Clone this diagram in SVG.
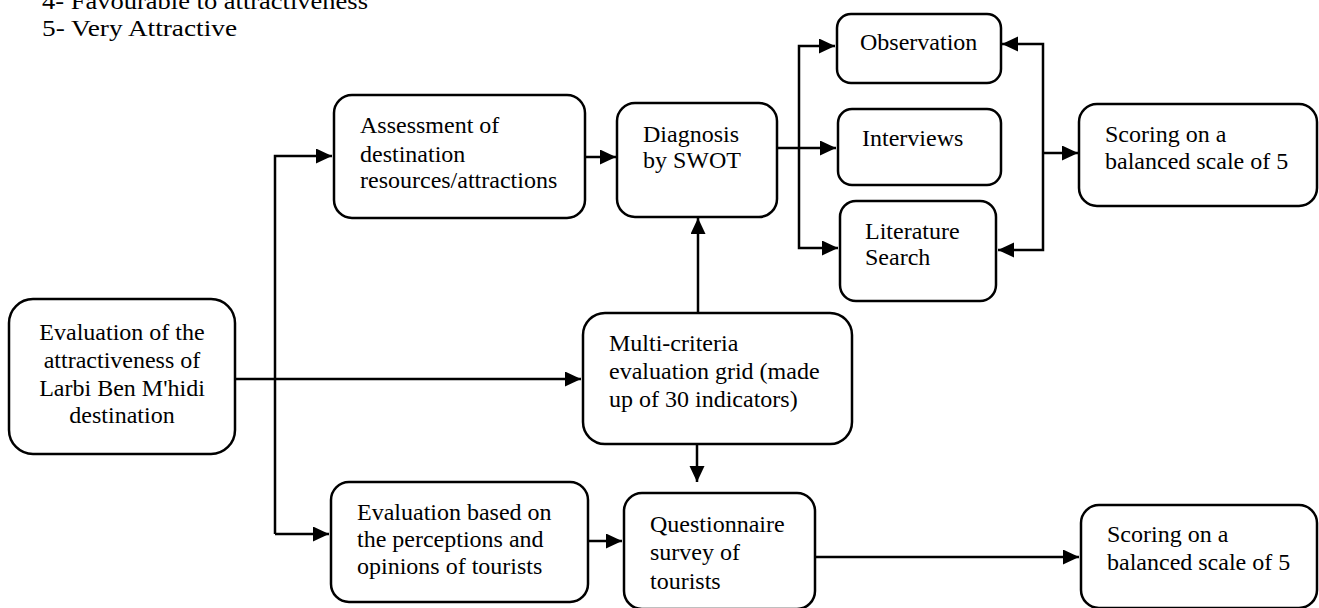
<svg xmlns="http://www.w3.org/2000/svg" width="1319" height="608" viewBox="0 0 1319 608">
<defs>
<style>
text{font-family:"Liberation Serif","Times New Roman",serif;font-size:24px;fill:#000}
.box{fill:#fff;stroke:#000;stroke-width:2.5}
.ln{fill:none;stroke:#000;stroke-width:2.5}
</style>
<marker id="ah" markerUnits="userSpaceOnUse" markerWidth="17" markerHeight="16" refX="16" refY="7.5" orient="auto">
<path d="M0,0 L16,7.5 L0,15 z" fill="#000"/>
</marker>
</defs>
<rect width="1319" height="608" fill="#fff"/>
<g id="legend">
<text x="42" y="9" textLength="326" lengthAdjust="spacingAndGlyphs">4- Favourable to attractiveness</text>
<text x="42" y="36" textLength="195" lengthAdjust="spacingAndGlyphs">5- Very Attractive</text>
</g>
<g id="connectors">
<path class="ln" d="M235,379 L581,379" marker-end="url(#ah)"/>
<path class="ln" d="M275,534 L275,156 L332,156" marker-end="url(#ah)"/>
<path class="ln" d="M275,534 L329,534" marker-end="url(#ah)"/>
<path class="ln" d="M585,157 L616,157" marker-end="url(#ah)"/>
<path class="ln" d="M588,541 L622,541" marker-end="url(#ah)"/>
<path class="ln" d="M698,313 L698,218" marker-end="url(#ah)"/>
<path class="ln" d="M697,444 L697,482" marker-end="url(#ah)"/>
<path class="ln" d="M777,148 L836,148" marker-end="url(#ah)"/>
<path class="ln" d="M799,148 L799,46 L835,46" marker-end="url(#ah)"/>
<path class="ln" d="M799,148 L799,248 L838,248" marker-end="url(#ah)"/>
<path class="ln" d="M1043,153 L1043,44 L1002,44" marker-end="url(#ah)"/>
<path class="ln" d="M1043,153 L1043,250 L998,250" marker-end="url(#ah)"/>
<path class="ln" d="M1043,153 L1078,153" marker-end="url(#ah)"/>
<path class="ln" d="M815,557 L1079,557" marker-end="url(#ah)"/>
</g>
<g id="n-evaluation">
<rect class="box" x="9" y="299" width="226" height="155" rx="24"/>
<text x="122" y="340" text-anchor="middle">Evaluation of the</text>
<text x="122" y="368" text-anchor="middle">attractiveness of</text>
<text x="122" y="396" text-anchor="middle">Larbi Ben M'hidi</text>
<text x="122" y="423" text-anchor="middle">destination</text>
</g>
<g id="n-assessment">
<rect class="box" x="334" y="95" width="251" height="123" rx="18"/>
<text x="360" y="133">Assessment of</text>
<text x="360" y="162">destination</text>
<text x="360" y="188">resources/attractions</text>
</g>
<g id="n-diagnosis">
<rect class="box" x="617" y="103" width="160" height="114" rx="18"/>
<text x="643" y="142">Diagnosis</text>
<text x="643" y="168">by SWOT</text>
</g>
<g id="n-observation">
<rect class="box" x="837" y="14" width="164" height="69" rx="14"/>
<text x="860" y="50">Observation</text>
</g>
<g id="n-interviews">
<rect class="box" x="838" y="109" width="163" height="76" rx="14"/>
<text x="862" y="146">Interviews</text>
</g>
<g id="n-literature">
<rect class="box" x="840" y="201" width="156" height="100" rx="16"/>
<text x="865" y="239">Literature</text>
<text x="865" y="265">Search</text>
</g>
<g id="n-scoring1">
<rect class="box" x="1079" y="104" width="238" height="102" rx="18"/>
<text x="1105" y="142">Scoring on a</text>
<text x="1105" y="169">balanced scale of 5</text>
</g>
<g id="n-multi">
<rect class="box" x="583" y="313" width="269" height="131" rx="22"/>
<text x="609" y="351">Multi-criteria</text>
<text x="609" y="379">evaluation grid (made</text>
<text x="609" y="407">up of 30 indicators)</text>
</g>
<g id="n-perceptions">
<rect class="box" x="331" y="482" width="257" height="120" rx="18"/>
<text x="357" y="520">Evaluation based on</text>
<text x="357" y="547">the perceptions and</text>
<text x="357" y="574">opinions of tourists</text>
</g>
<g id="n-questionnaire">
<rect class="box" x="624" y="493" width="191" height="116" rx="18"/>
<text x="650" y="532">Questionnaire</text>
<text x="650" y="560">survey of</text>
<text x="650" y="589">tourists</text>
</g>
<g id="n-scoring2">
<rect class="box" x="1081" y="505" width="236" height="103" rx="18"/>
<text x="1107" y="542">Scoring on a</text>
<text x="1107" y="570">balanced scale of 5</text>
</g>
</svg>
